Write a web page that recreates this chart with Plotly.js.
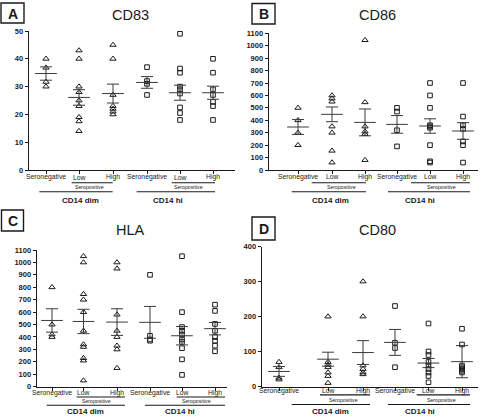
<!DOCTYPE html>
<html><head><meta charset="utf-8">
<script src="https://cdn.plot.ly/plotly-3.0.1.min.js"></script>
<style>html,body{margin:0;padding:0;background:#fff}#chart{width:480px;height:416px}</style>
</head><body><div id="chart"></div>
<script>
// ---------------- DATA ----------------
const categories = ["Seronegative", "Low", "High", "Seronegative", "Low", "High"];
const subgroupLabel = "Seropositive";
const groupLabels = ["CD14 dim", "CD14 hi"];
const panelLetters = ["A", "B", "C", "D"];
const panelTitles = ["CD83", "CD86", "HLA", "CD80"];
const yMax = [50, 1100, 1100, 400];
const yStep = [10, 100, 100, 100];

// individual values per category (dim: Seroneg, Low, High; hi: Seroneg, Low, High)
const cd83Values = [
  [40, 36.8, 31.7, 30],
  [43, 40, 30, 28, 25, 23, 19, 17.5, 14],
  [45, 40, 27, 23, 22, 21, 20],
  [37, 32, 31, 27],
  [49, 36.5, 35, 30, 29, 27.5, 22.5, 20.5, 18],
  [40, 35, 29, 27, 24.5, 23, 18]
];
const cd83Mean = [34.7, 26.1, 27.5, 31.5, 27.8, 27.8];
const cd83Sem = [2.4, 2.8, 3.4, 2.1, 2.7, 2.35];

const cd86Values = [
  [500, 400, 300, 200],
  [600, 575, 550, 350, 300, 155, 60],
  [1045, 545, 350, 310, 290, 80],
  [500, 470, 320, 190],
  [700, 600, 500, 360, 350, 340, 200, 70, 60],
  [700, 430, 360, 330, 230, 200, 60]
];
const cd86Mean = [346, 448, 383, 367, 354, 314];
const cd86Sem = [60, 59, 108, 71, 58, 67];

const hlaValues = [
  [800, 500, 420, 400],
  [1050, 1000, 745, 700, 600, 450, 340, 320, 230, 210, 50],
  [1000, 950, 580, 450, 400, 330, 300, 150],
  [900, 410, 380, 370],
  [1050, 600, 480, 450, 420, 380, 360, 310, 220, 95],
  [660, 610, 505, 450, 400, 370, 330, 285]
];
const hlaMean = [533, 525, 520, 518, 410, 467];
const hlaSem = [94, 98, 107, 128, 74, 50];

const cd80Values = [
  [70, 55, 25, 20],
  [200, 70, 62, 55, 40, 30, 10],
  [300, 200, 60, 50, 40, 35],
  [230, 125, 110, 55],
  [180, 100, 90, 70, 60, 50, 40, 30, 12],
  [165, 120, 60, 55, 50, 45, 40]
];
const cd80Mean = [43, 78, 97, 126, 67, 71];
const cd80Sem = [14, 20, 34, 37, 13, 46];

const panelValues = [cd83Values, cd86Values, hlaValues, cd80Values];
const panelMeans = [cd83Mean, cd86Mean, hlaMean, cd80Mean];
const panelSems = [cd83Sem, cd86Sem, hlaSem, cd80Sem];

// ---------------- LAYOUT GEOMETRY (pixels) ----------------
const W = 480, H = 416;
const PX = v => v / W, PY = v => 1 - v / H;
const geo = [
  {axL: 29, axR: 235, yTop: 31, yBot: 170, slots: [46, 79, 113, 147, 180, 213],
   labY: 177.3, upY: 182.7, seroY: 187.3, lowY: 191.7, grpY: 200,
   dimUp: [71.7, 112.7], dimLow: [39.3, 112.7], hiUp: [171.7, 215], hiLow: [136.7, 215],
   dimSeroX: 89, hiSeroX: 188.5, dimGrpX: 80, hiGrpX: 168.3,
   box: [1, 3, 24, 23], titleX: 130, titleY: 15},
  {axL: 269, axR: 478, yTop: 33.3, yBot: 170, slots: [298, 332, 365, 397, 430, 463],
   labY: 177, upY: 182.7, seroY: 187.3, lowY: 191.7, grpY: 200,
   dimUp: [311.7, 366], dimLow: [291.7, 366], hiUp: [411, 470], hiLow: [388, 470],
   dimSeroX: 341.7, hiSeroX: 441, dimGrpX: 330, hiGrpX: 420,
   box: [252, 3.5, 275, 24], titleX: 377, titleY: 15},
  {axL: 37, axR: 227, yTop: 250, yBot: 386.7, slots: [52, 83.5, 117, 150, 182, 215],
   labY: 392.8, upY: 397, seroY: 401, lowY: 405.2, grpY: 411.5,
   dimUp: [76.7, 125], dimLow: [46.7, 125], hiUp: [176.7, 225], hiLow: [145, 225],
   dimSeroX: 96.7, hiSeroX: 196.7, dimGrpX: 85, hiGrpX: 180,
   box: [1.5, 210, 23.5, 231], titleX: 130, titleY: 230},
  {axL: 262, axR: 478, yTop: 246.5, yBot: 386.5, slots: [279, 328, 363, 395, 428.5, 462],
   labY: 390.8, upY: 394.9, seroY: 399.6, lowY: 404.5, grpY: 411.2,
   dimUp: [320, 370], dimLow: [291.7, 370], hiUp: [416.7, 470], hiLow: [388, 470],
   dimSeroX: 343.3, hiSeroX: 441.7, dimGrpX: 330, hiGrpX: 420,
   box: [252, 217, 275, 240], titleX: 377, titleY: 230}
];

const FONT = "Arial, 'Liberation Sans', sans-serif";
const INK = '#1a1a1a';
const MEANC = '#3a3a3a';

const traces = [];
const layout = {
  width: W, height: H, margin: {l: 0, r: 0, t: 0, b: 0},
  paper_bgcolor: '#fff', plot_bgcolor: 'rgba(0,0,0,0)',
  showlegend: false, font: {family: FONT, color: INK},
  shapes: [], annotations: []
};

panelValues.forEach((vals, k) => {
  const g = geo[k];
  const s = k === 0 ? '' : String(k + 1);
  const xa = 'x' + s, ya = 'y' + s;
  // x axis is a slot axis: each category sits in its own slot of the panel
  vals.forEach((v, i) => {
    traces.push({
      type: 'scatter', mode: 'markers', xaxis: xa, yaxis: ya,
      x: v.map(() => g.slots[i]), y: v, cliponaxis: false, hoverinfo: 'skip',
      marker: {symbol: i < 3 ? 'triangle-up-open' : 'square-open', size: i < 3 ? 5.5 : 4.6,
               color: INK, line: {width: 1, color: INK}}
    });
  });
  traces.push({
    type: 'scatter', mode: 'markers', xaxis: xa, yaxis: ya,
    x: categories.map((c, i) => g.slots[i]), y: panelMeans[k], cliponaxis: false, hoverinfo: 'skip',
    marker: {symbol: 'line-ew', size: 15.5, color: MEANC, line: {width: 1, color: MEANC}},
    error_y: {type: 'data', array: panelSems[k], visible: true, color: MEANC, thickness: 1, width: 6}
  });

  layout['xaxis' + s] = {
    domain: [PX(g.axL), PX(g.axR)], anchor: ya,
    range: [g.axL, g.axR],
    tickmode: 'array', tickvals: g.slots, showticklabels: false,
    ticks: 'outside', ticklen: 3, tickwidth: 1, tickcolor: INK,
    showline: true, linecolor: INK, linewidth: 1.4, showgrid: false, zeroline: false, fixedrange: true
  };
  layout['yaxis' + s] = {
    domain: [PY(g.yBot), PY(g.yTop)], anchor: xa,
    range: [0, yMax[k]], tick0: 0, dtick: yStep[k],
    tickfont: {size: 7.5, family: FONT, color: INK, weight: 'bold'},
    ticks: 'outside', ticklen: 3, tickwidth: 1, tickcolor: INK,
    showline: true, linecolor: INK, linewidth: 1.4, showgrid: false, zeroline: false, fixedrange: true
  };

  // category labels placed on the panel's x scale
  categories.forEach((c, i) => {
    layout.annotations.push({text: c, xref: xa, yref: 'paper', x: g.slots[i], y: PY(g.labY),
      xanchor: 'center', yanchor: 'middle', showarrow: false,
      font: {size: 6.8, family: FONT, color: '#222'}});
  });

  const line = (x0, x1, y) => ({type: 'line', xref: 'paper', yref: 'paper',
    x0: PX(x0), x1: PX(x1), y0: PY(y), y1: PY(y), line: {color: INK, width: 1.1}});
  layout.shapes.push(line(g.dimUp[0], g.dimUp[1], g.upY));
  layout.shapes.push(line(g.dimLow[0], g.dimLow[1], g.lowY));
  layout.shapes.push(line(g.hiUp[0], g.hiUp[1], g.upY));
  layout.shapes.push(line(g.hiLow[0], g.hiLow[1], g.lowY));
  layout.shapes.push({type: 'rect', xref: 'paper', yref: 'paper',
    x0: PX(g.box[0]), x1: PX(g.box[2]), y0: PY(g.box[3]), y1: PY(g.box[1]),
    line: {color: INK, width: 1.4}, fillcolor: 'rgba(0,0,0,0)'});

  const ann = (text, x, y, size, bold) => ({text, xref: 'paper', yref: 'paper',
    x: PX(x), y: PY(y), xanchor: 'center', yanchor: 'middle', showarrow: false,
    font: {size, family: FONT, color: INK, weight: bold ? 'bold' : 'normal'}});
  layout.annotations.push(ann(subgroupLabel, g.dimSeroX, g.seroY, 5.2, false));
  layout.annotations.push(ann(subgroupLabel, g.hiSeroX, g.seroY, 5.2, false));
  layout.annotations.push(ann(groupLabels[0], g.dimGrpX, g.grpY, 8, true));
  layout.annotations.push(ann(groupLabels[1], g.hiGrpX, g.grpY, 8, true));
  layout.annotations.push(ann(panelTitles[k], g.titleX, g.titleY, 14.5, false));
  layout.annotations.push(ann(panelLetters[k], (g.box[0] + g.box[2]) / 2, (g.box[1] + g.box[3]) / 2 + 0.5, 14, true));
});

Plotly.newPlot('chart', traces, layout, {displayModeBar: false, staticPlot: true});
</script>
</body></html>
